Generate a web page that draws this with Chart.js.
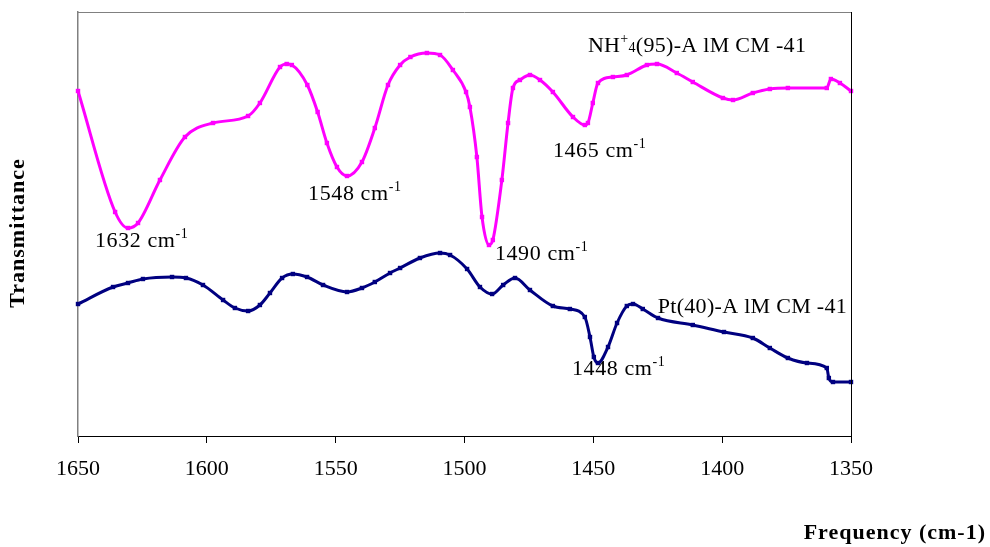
<!DOCTYPE html>
<html>
<head>
<meta charset="utf-8">
<script src="https://cdn.jsdelivr.net/npm/chart.js@4"></script>
<style>
  html, body { margin: 0; padding: 0; background: #fff; }
  #wrap { width: 990px; height: 547px; }
</style>
</head>
<body>
<div id="wrap"><canvas id="c" width="990" height="547"></canvas></div>
<script>
// Frequency (cm-1) and transmittance (arbitrary units)
const freqNH = [1650, 1635.6, 1630.6, 1626.7, 1618.2, 1608.5, 1597.6, 1584, 1579.4, 1571.6, 1569, 1567, 1561, 1557, 1553.4, 1549.5, 1545.6, 1539.8, 1534.8, 1529.7, 1525, 1521, 1514.6, 1509.5, 1504.5, 1499.4, 1497.9, 1495.2, 1493.2, 1490.5, 1489, 1485.5, 1483.1, 1481.2, 1478.5, 1474.6, 1470.7, 1465.7, 1457.9, 1453.3, 1452.1, 1450.2, 1448.2, 1442.4, 1437, 1429.2, 1425.3, 1417.6, 1411.4, 1399.7, 1395.8, 1388.1, 1381.5, 1374.5, 1359.4, 1357.8, 1354.3, 1350];
const transNH = [345, 224, 208, 213, 256, 299, 313, 320, 333, 369, 372, 371, 351, 324, 293, 269, 260, 274, 308, 351, 371, 379, 383, 381, 366, 344, 329, 279, 219, 191, 196, 256, 313, 348, 356, 361, 356, 344, 319, 311, 313, 333, 353, 359, 361, 371, 372, 363, 354, 338, 336, 343, 347, 348, 348, 357, 353, 345];

const freqPt = [1650, 1636.4, 1630.6, 1624.8, 1613.5, 1608.1, 1601.5, 1593.7, 1589.1, 1584, 1579.4, 1575.5, 1570.8, 1566.6, 1561.1, 1554.9, 1545.6, 1539.8, 1534.8, 1528.9, 1525, 1517.3, 1509.5, 1505.6, 1499, 1494, 1489.3, 1485, 1480.4, 1474.6, 1465.7, 1459.1, 1453.3, 1451.3, 1449.8, 1448.2, 1444.3, 1440.8, 1437, 1434.6, 1430.8, 1424.9, 1411.4, 1399.3, 1388.1, 1381.5, 1374.5, 1367.1, 1359.4, 1358.6, 1357, 1350];
const transPt = [132, 149, 153, 157, 159, 158, 151, 136, 128, 125, 131, 143, 158, 162, 159, 151, 144, 148, 154, 163, 168, 178, 183, 181, 167, 149, 142, 151, 158, 146, 130, 127, 119, 99, 79, 73, 89, 113, 130, 132, 127, 118, 111, 104, 98, 88, 78, 73, 68, 58, 54, 54];

const xTicks = [1650, 1600, 1550, 1500, 1450, 1400, 1350];
const seriesNames = ['NH4+(95)-AlMCM-41', 'Pt(40)-AlMCM-41'];
// peak annotation texts and their anchor (frequency, transmittance)
const peakLabels = ['1632', '1548', '1490', '1465', '1448'];
const peakLabelX = [1643.4, 1560.7, 1488.2, 1465.7, 1458.3];
const peakLabelY = [189, 236, 176, 279, 61];

const SERIF = '"Liberation Serif", "Times New Roman", serif';

function toPts(xs, ys) { return xs.map((x, i) => ({ x: x, y: ys[i] })); }

// draws runs of [text, kind] where kind: n normal, sup superscript, sub small baseline
function drawRich(ctx, x, y, runs, size, spacing) {
  let cx = x;
  runs.forEach(r => {
    const [t, kind] = r;
    let fs = size, dy = 0;
    if (kind === 'sup') { fs = Math.round(size * 0.62); dy = -size * 0.42; }
    if (kind === 'sub') { fs = Math.round(size * 0.62); dy = 0; }
    ctx.font = fs + 'px ' + SERIF;
    ctx.letterSpacing = (spacing || 0) + 'px';
    ctx.fillText(t, cx, y + dy);
    cx += ctx.measureText(t).width;
  });
  ctx.letterSpacing = '0px';
}

const decor = {
  id: 'decor',
  afterDraw(chart) {
    const ctx = chart.ctx;
    const a = chart.chartArea;
    ctx.save();
    // top (gray) and right (black) frame lines
    ctx.lineWidth = 1;
    ctx.strokeStyle = '#808080';
    ctx.beginPath(); ctx.moveTo(a.left, a.top + 0.5); ctx.lineTo(a.right, a.top + 0.5); ctx.stroke();
    ctx.strokeStyle = '#000';
    ctx.beginPath(); ctx.moveTo(a.right + 0.5, a.top); ctx.lineTo(a.right + 0.5, a.bottom); ctx.stroke();

    ctx.fillStyle = '#000';
    ctx.textBaseline = 'alphabetic';
    ctx.textAlign = 'left';
    const sx = chart.scales.x, sy = chart.scales.y;
    const S = 22;
    const cm = (num) => [[num + ' cm', 'n'], ['-1', 'sup']];
    peakLabels.forEach((t, i) => {
      drawRich(ctx, sx.getPixelForValue(peakLabelX[i]), sy.getPixelForValue(peakLabelY[i]), cm(t), S, 0.6);
    });
    // series labels
    drawRich(ctx, sx.getPixelForValue(1452.1), sy.getPixelForValue(384),
      [['NH', 'n'], ['+', 'sup'], ['4', 'sub'], ['(95)-A lM CM -41', 'n']], S, 0.3);
    drawRich(ctx, sx.getPixelForValue(1425), sy.getPixelForValue(123),
      [['Pt(40)-A lM CM -41', 'n']], S, 0.3);

    // axis titles
    ctx.font = 'bold 22px ' + SERIF;
    ctx.letterSpacing = '1px';
    ctx.textAlign = 'right';
    ctx.fillText('Frequency (cm-1)', 986, 539);
    ctx.translate(24, (a.top + a.bottom) / 2 + 9);
    ctx.rotate(-Math.PI / 2);
    ctx.textAlign = 'center';
    ctx.fillText('Transmittance', 0, 0);
    ctx.restore();
  }
};

new Chart(document.getElementById('c'), {
  type: 'line',
  data: {
    datasets: [
      {
        label: seriesNames[0],
        data: toPts(freqNH, transNH),
        borderColor: '#FF00FF',
        backgroundColor: '#FF00FF',
        borderWidth: 3,
        pointStyle: 'rect',
        pointRadius: 1,
        cubicInterpolationMode: 'monotone',
        fill: false,
        clip: 4
      },
      {
        label: seriesNames[1],
        data: toPts(freqPt, transPt),
        borderColor: '#000080',
        backgroundColor: '#000080',
        borderWidth: 3,
        pointStyle: 'rect',
        pointRadius: 1,
        cubicInterpolationMode: 'monotone',
        fill: false,
        clip: 4
      }
    ]
  },
  options: {
    responsive: false,
    animation: false,
    events: [],
    layout: { padding: { top: 12, right: 139, left: 0, bottom: 0 } },
    plugins: { legend: { display: false }, tooltip: { enabled: false }, title: { display: false } },
    scales: {
      x: {
        type: 'linear',
        reverse: true,
        min: 1350,
        max: 1650,
        afterFit(s) { s.height = 111; },
        afterBuildTicks(s) { s.ticks = xTicks.map(v => ({ value: v })); },
        ticks: {
          color: '#000',
          font: { family: SERIF, size: 22 },
          padding: 13,
          maxRotation: 0,
          autoSkip: false,
          callback: (v) => String(v)
        },
        grid: { display: true, drawOnChartArea: false, drawTicks: true, tickLength: 7, color: '#000', lineWidth: 1 },
        border: { display: true, color: '#000', width: 1 }
      },
      y: {
        min: 0,
        max: 424,
        afterFit(s) { s.width = 78; },
        ticks: { display: false },
        grid: { display: false, drawTicks: false },
        border: { display: true, color: '#808080', width: 1.5 }
      }
    }
  },
  plugins: [decor]
});
</script>
</body>
</html>
